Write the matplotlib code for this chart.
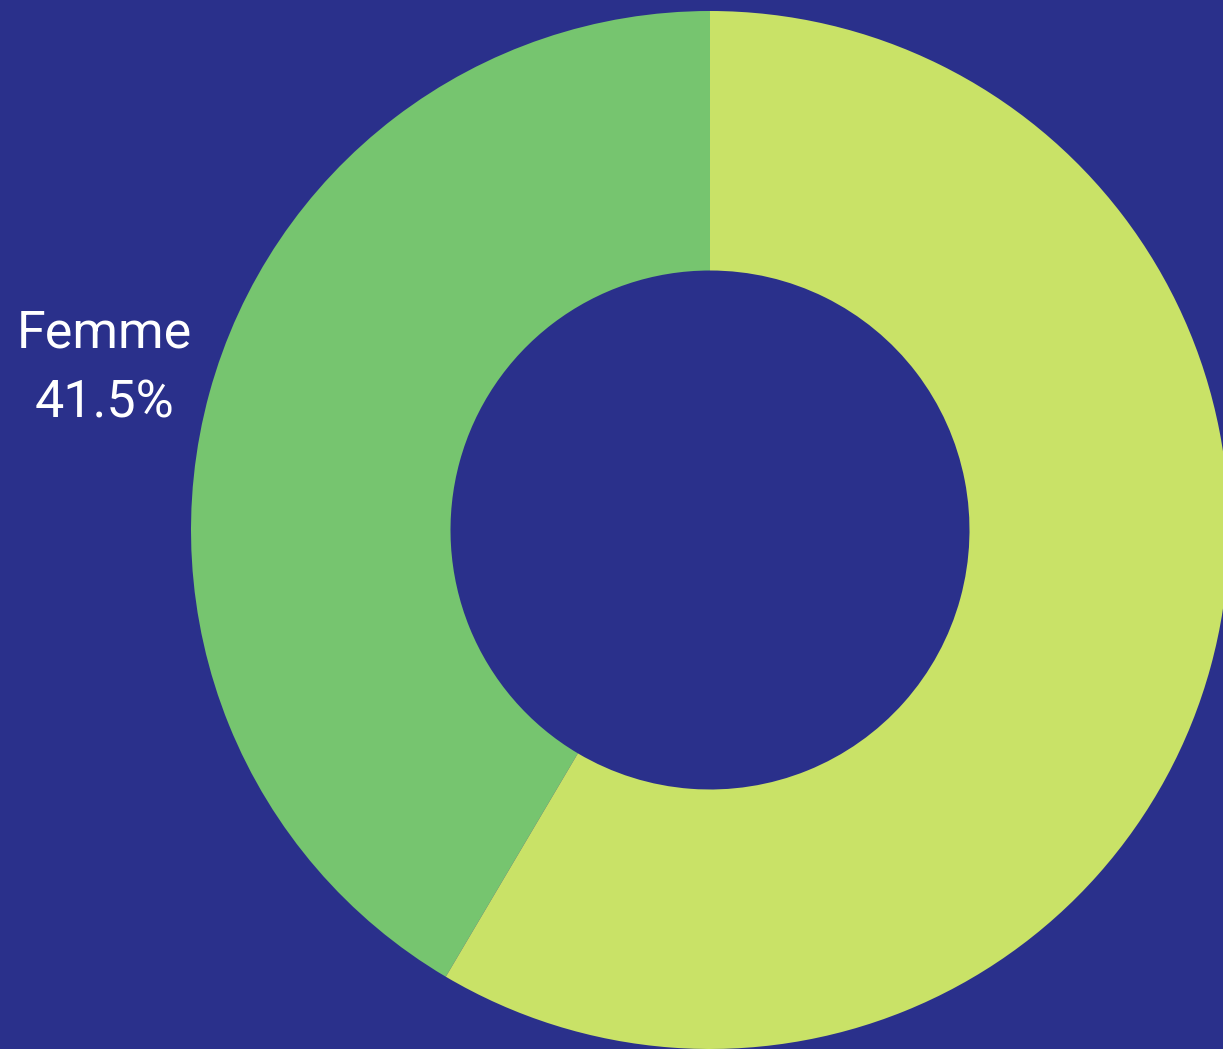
import matplotlib
matplotlib.use("Agg")
import matplotlib.pyplot as plt
import numpy as np

labels = ['Femme', 'Homme']
values = [41.5, 58.5]
colors = ['#76C56F', '#C9E267']
bg = '#2A308B'

fig = plt.figure(figsize=(12.23, 10.49), dpi=100, facecolor=bg)
ax = fig.add_axes([0, 0, 1, 1])
ax.set_facecolor(bg)

R = 1.0
wedges, _ = ax.pie(values, colors=colors, startangle=90, counterclock=True,
                   radius=R, wedgeprops=dict(width=0.5, linewidth=0))

# label only the visible slice (the other one falls off the canvas)
mid = np.deg2rad(90 + values[0] * 3.6 / 2)
x, y = 1.21 * np.cos(mid), 1.21 * np.sin(mid) - 0.008
ax.text(x, y + 0.068, labels[0], color='white', fontsize=37.5, family='Roboto',
        ha='center', va='center')
ax.text(x, y - 0.068, f'{values[0]}%', color='white', fontsize=37.5, family='Roboto',
        ha='center', va='center')

# 1 data unit = 519 px, centre at (710, 530)
ax.set_xlim(-710 / 519, (1223 - 710) / 519)
ax.set_ylim(-(1049 - 530) / 519, 530 / 519)
ax.set_aspect('equal')
ax.axis('off')

plt.savefig('out.png', dpi=100, facecolor=bg)
